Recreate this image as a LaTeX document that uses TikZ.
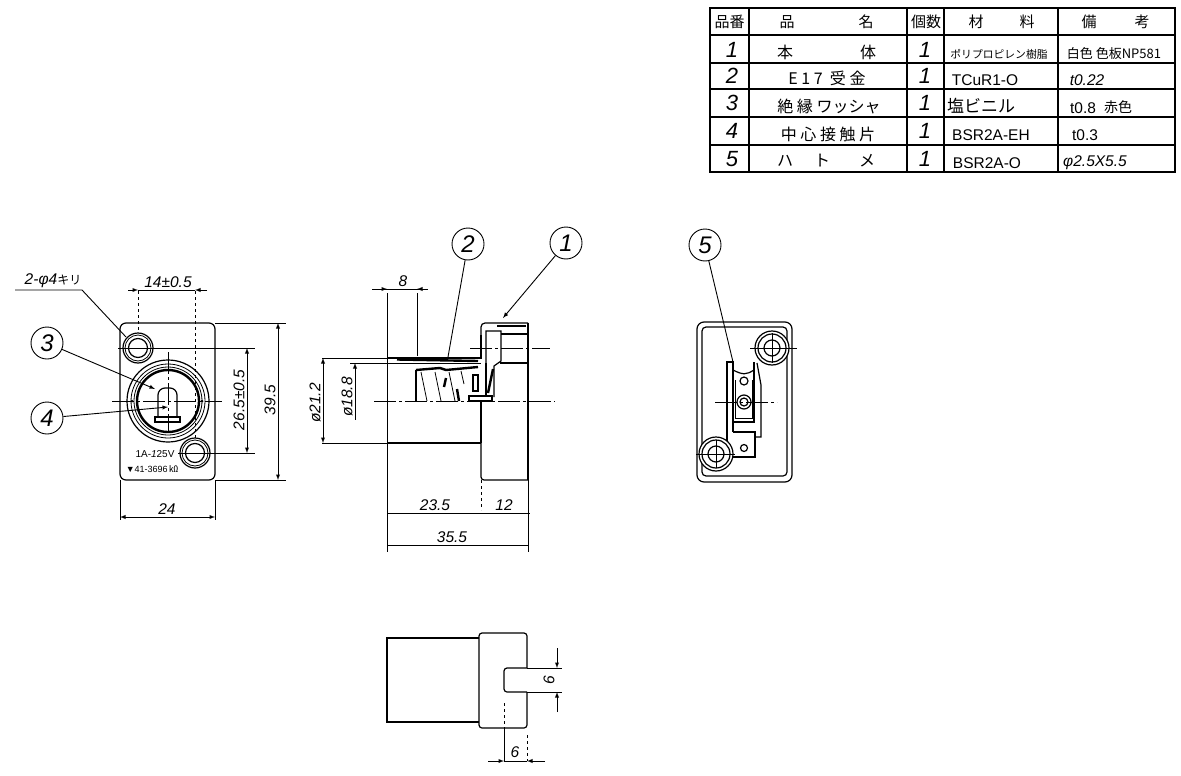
\documentclass[tikz,border=0pt]{standalone}
\usepackage{fontspec}
\setmainfont{Liberation Sans}
\newfontfamily\cjk{Noto Sans CJK JP}
\tikzset{
  balloon/.style={draw,line width=0.9pt,circle,minimum size=32pt,inner sep=0pt,font=\itshape\fontsize{24}{26}\selectfont},
  dimtext/.style={inner sep=0pt,font=\itshape\fontsize{15.5}{17}\selectfont},
  headtext/.style={inner sep=0pt,font=\cjk\fontsize{15}{17}\selectfont},
  rowno/.style={inner sep=0pt,font=\itshape\fontsize{22}{24}\selectfont},
  rowtext/.style={inner sep=0pt,font=\cjk\fontsize{16}{18}\selectfont},
  rowsmall/.style={inner sep=0pt,font=\fontsize{15.5}{17}\selectfont},
  dimline/.style={line width=0.9pt},
  extline/.style={line width=0.8pt},
  centre/.style={line width=0.9pt,dash pattern=on 22pt off 3pt on 3pt off 3pt},
  outline/.style={line width=1.2pt},
  heavy/.style={line width=2.4pt}
}
\begin{document}
\begin{tikzpicture}[x=1pt,y=-1pt,>=latex]
  \useasboundingbox (0,0) rectangle (1181,776);

  % parts table
  \draw[line width=1.4pt] (710,8) rectangle (1175,172);
  \foreach \yy in {35,63,89,117,145}
    \draw[line width=1.1pt] (710,\yy) -- (1175,\yy);
  \foreach \xx in {749,907,944,1058}
    \draw[line width=1.1pt] (\xx,8) -- (\xx,172);

  \node[headtext] (hno) at (729.5,22) {品番};
  \node[headtext] (hna) at (787,22) {品};
  \node[headtext] (hnb) at (866,22) {名};
  \node[headtext] (hqt) at (926,22) {個数};
  \node[headtext] (hma) at (976,22) {材};
  \node[headtext] (hmb) at (1027,22) {料};
  \node[headtext] (hra) at (1089,22) {備};
  \node[headtext] (hrb) at (1142,22) {考};

  \node[rowno] (noa) at (732,50) {1};
  \node[rowno] (nob) at (732,76) {2};
  \node[rowno] (noc) at (732,103) {3};
  \node[rowno] (nod) at (732,131) {4};
  \node[rowno] (noe) at (732,159) {5};

  \node[rowtext] (nma) at (785,52) {本};
  \node[rowtext] (nmb) at (868,52) {体};
  \node[rowtext] (nmc) at (827,78) {E 1 7\ \ 受 金};
  \node[rowtext] (nmd) at (829,106) {絶 縁 ワッシャ};
  \node[rowtext] (nme) at (828,134) {中 心 接 触 片};
  \node[rowtext] (nmf) at (785,161) {ハ};
  \node[rowtext] (nmg) at (822,161) {ト};
  \node[rowtext] (nmh) at (867,161) {メ};

  \foreach \yy/\nn in {50/a,76/b,103/c,131/d,159/e}
    \node[rowno] (qt\nn) at (925,\yy) {1};

  \node[rowtext,font=\cjk\fontsize{10.8}{12}\selectfont] (maa) at (999,54) {ポリプロピレン樹脂};
  \node[rowsmall] (mab) at (985,80) {TCuR1-O};
  \node[rowtext,font=\cjk\fontsize{17}{19}\selectfont] (mac) at (981,106) {塩ビニル};
  \node[rowsmall] (mad) at (991,135) {BSR2A-EH};
  \node[rowsmall] (mae) at (987,163) {BSR2A-O};

  \node[rowtext,font=\cjk\fontsize{13}{15}\selectfont] (rma) at (1114,54) {白色 色板NP581};
  \node[rowsmall,font=\itshape\fontsize{15.5}{17}\selectfont] (rmb) at (1087,80) {t0.22};
  \node[rowsmall] (rmc) at (1083,108) {t0.8};
  \node[rowtext,font=\cjk\fontsize{14}{16}\selectfont] (rmd) at (1118,107) {赤色};
  \node[rowsmall] (rme) at (1085,135) {t0.3};
  \node[rowsmall,font=\itshape\fontsize{15.5}{17}\selectfont] (rmf) at (1095,163) {φ2.5X5.5};

  % front view
  \draw[outline,rounded corners=6pt] (120,323) rectangle (215,480);
  \draw[outline] (138,348) circle (15);
  \draw[extline] (138,348) circle (13);
  \draw[outline] (138,348) circle (9.5);
  \draw[outline] (195,453) circle (15);
  \draw[extline] (195,453) circle (13);
  \draw[outline] (195,453) circle (9.5);
  \draw[outline] (168,401) circle (41);
  \draw[extline] (168,401) circle (37);
  \draw[extline] (168,401) circle (34);
  \draw[heavy] (168,401) circle (31);
  \draw[outline,rounded corners=7pt] (158,417) -- (158,388) -- (177,388) -- (177,417);
  \draw[outline] (158,417) -- (177,417);
  \draw[outline] (155,417) -- (155,422) -- (180,422) -- (180,417) -- cycle;
  \draw[centre] (112,401) -- (222,401);
  \draw[centre] (168,352) -- (168,432);
  \fill (132,401) circle (1.5) (202,401) circle (1.5);

  \node[dimtext,font=\fontsize{10}{12}\selectfont] (rating) at (155,454) {1A-\textit{1}25V};
  \node[dimtext,font=\fontsize{9}{11}\selectfont] (stamp) at (152,469) {▼41-3696\,{\cjk ㏀}};

  \node[balloon] (bthree) at (47,343) {3};
  \node[balloon] (bfour) at (47,418) {4};
  \coordinate (tthree) at (155,389);
  \coordinate (tfour) at (168,407);
  \draw[dimline,->] (bthree) -- (tthree);
  \draw[dimline,->] (bfour) -- (tfour);

  \node[dimtext] (hole) at (53,281) {2-φ4{\cjk\upshape\fontsize{12}{14}\selectfont キリ}};
  \coordinate (holea) at (15,290);
  \coordinate (holeb) at (82,290);
  \coordinate (holec) at (126,337);
  \draw[dimline] (holea) -- (holeb) -- (holec);

  \node[dimtext] (wdt) at (168,282) {14±0.5};
  \draw[extline,dashed] (138,291) -- (138,333);
  \draw[extline,dashed] (195,291) -- (195,438);
  \draw[dimline,->] (128,290) -- (138,290);
  \draw[dimline,->] (207,290) -- (195,290);
  \draw[dimline] (138,290) -- (195,290);

  \draw[extline] (118,348) -- (255,348);
  \draw[extline] (178,453) -- (255,453);
  \draw[dimline,<->] (247,348) -- (247,453);
  \node[dimtext,rotate=90] (hgt) at (239,400) {26.5±0.5};

  \draw[extline] (215,323) -- (286,323);
  \draw[extline] (215,480) -- (286,480);
  \draw[dimline,<->] (278,323) -- (278,480);
  \node[dimtext,rotate=90] (tall) at (270,400) {39.5};

  \draw[extline] (120,480) -- (120,520);
  \draw[extline] (215,480) -- (215,520);
  \draw[dimline,<->] (120,517) -- (215,517);
  \node[dimtext] (wide) at (167,509) {24};

  % side view
  \draw[outline] (387,358) -- (481,358) -- (481,335);
  \draw[outline,rounded corners=4pt] (481,335) -- (481,323) -- (528,323);
  \draw[outline] (528,323) -- (528,480);
  \draw[outline,rounded corners=3pt] (481,443) -- (481,480) -- (528,480);
  \draw[outline] (387,443) -- (481,443);
  \draw[outline] (481,401) -- (481,443);
  \draw[extline] (387,363) -- (481,363);
  \draw[extline] (387,293) -- (387,552);
  \draw[extline] (417,293) -- (417,356);
  \draw[heavy] (397,359.5) -- (478,361);
  \draw[heavy] (497,326) -- (526,326);

  % inner wall of the flange
  \draw[outline] (486,363) -- (486,331) -- (501,331) -- (501,361) -- (494,366) -- (494,397);
  \draw[outline] (501,334) -- (528,334);
  \draw[outline] (500,363) -- (528,363);
  \draw[outline] (486,363) -- (486,396);

  % socket thread
  \draw[outline] (416,401) -- (416,370);
  \draw[heavy] (416,370) -- (440,368) -- (446,370) -- (478,367);
  \draw[extline] (421,372) -- (427,401);
  \draw[extline] (435,372) -- (441,401);
  \draw[extline] (449,372) -- (455,401);
  \draw[extline] (461,371) -- (464,384);
  \draw[heavy] (457,389) -- (459,401);
  \draw[heavy] (446,378) -- (444,387);
  \draw[outline] (473,375) rectangle (478,391);
  \draw[heavy] (493,369) -- (488,393);
  \draw[outline,fill=white] (469,396) rectangle (492,401);

  \draw[centre] (374,401) -- (555,401);
  \draw[centre] (470,348) -- (550,348);

  \node[balloon] (btwo) at (468,244) {2};
  \node[balloon] (bone) at (566,243) {1};
  \coordinate (ttwo) at (448,357);
  \coordinate (tone) at (503,318);
  \draw[dimline] (btwo) -- (ttwo);
  \draw[dimline,->] (bone) -- (tone);

  \draw[dimline] (372,289) -- (428,289);
  \draw[dimline,<-] (387,289) -- (372,289);
  \draw[dimline,<-] (417,289) -- (428,289);
  \node[dimtext] (eight) at (403,281) {8};

  \draw[extline] (322,358) -- (387,358);
  \draw[extline] (322,443) -- (387,443);
  \draw[extline] (350,363) -- (387,363);
  \draw[dimline,<->] (323,358) -- (323,443);
  \node[dimtext,rotate=90] (dia) at (315,403) {ø21.2};
  \draw[dimline,<-] (355,363) -- (355,420);
  \node[dimtext,rotate=90] (dib) at (347,397) {ø18.8};

  \draw[extline,dashed] (481,480) -- (481,510);
  \draw[extline] (528,480) -- (528,552);
  \draw[dimline] (387,513) -- (530,513);
  \node[dimtext] (lena) at (435,505) {23.5};
  \node[dimtext] (lenb) at (504,505) {12};
  \draw[dimline] (387,545) -- (528,545);
  \node[dimtext] (lenc) at (452,537) {35.5};

  % rear view
  \draw[outline,rounded corners=7pt] (697,322) rectangle (792,482);
  \draw[outline,rounded corners=4pt] (702,327) rectangle (787,476);
  \draw[outline] (733,432) -- (733,362) -- (727,362) -- (727,441);
  \draw[outline] (733,370) .. controls (743,375) and (746,375) .. (754,370);
  \draw[outline] (754,362) -- (754,422) -- (733,422);
  \draw[extline] (735,380) -- (735,418) -- (752,418) -- (752,380);
  \draw[outline] (757,363) -- (761,385) -- (761,437) -- (755,437);
  \draw[outline] (733,432) -- (755,432) -- (755,457) -- (733,457);
  \draw[heavy] (735,432) -- (755,432);
  \foreach \xx/\yy in {772/348,716/454}{
    \draw[outline,fill=white] (\xx,\yy) circle (17);
    \draw[outline] (\xx,\yy) circle (14);
    \draw[outline] (\xx,\yy) circle (8);
  }
  \draw[outline] (744,402) circle (7);
  \draw[outline] (744,402) circle (4);
  \draw[outline] (744,381) circle (4);
  \draw[outline] (744,448) circle (3.5);
  \draw[centre] (715,402) -- (777,402);
  \draw[extline] (750,348) -- (797,348);
  \draw[extline] (772,333) -- (772,363);
  \draw[extline] (696,454) -- (735,454);
  \draw[extline] (716,440) -- (716,468);

  \node[balloon] (bfive) at (705,245) {5};
  \coordinate (tfive) at (733,362);
  \draw[dimline] (bfive) -- (tfive);

  % bottom view
  \draw[outline] (479,638) -- (387,638) -- (387,722) -- (479,722);
  \draw[outline,rounded corners=3pt] (527,668) -- (527,633) -- (479,633) -- (479,728) -- (527,728) -- (527,692);
  \draw[outline,rounded corners=3pt] (527,668) -- (504,668) -- (504,692) -- (527,692);
  \draw[extline] (527,668) -- (562,668);
  \draw[extline] (527,692) -- (562,692);

  \draw[dimline,->] (557,648) -- (557,668);
  \draw[dimline,->] (557,712) -- (557,692);
  \node[dimtext,rotate=90] (notcha) at (549,680) {6};

  \draw[extline,dashed] (504,703) -- (504,728);
  \draw[extline] (504,728) -- (504,761);
  \draw[extline,dashed] (527,735) -- (527,761);
  \draw[dimline,->] (488,761) -- (504,761);
  \draw[dimline,->] (545,761) -- (527,761);
  \draw[dimline] (504,761) -- (527,761);
  \node[dimtext] (notchb) at (515,752) {6};
\end{tikzpicture}
\end{document}
